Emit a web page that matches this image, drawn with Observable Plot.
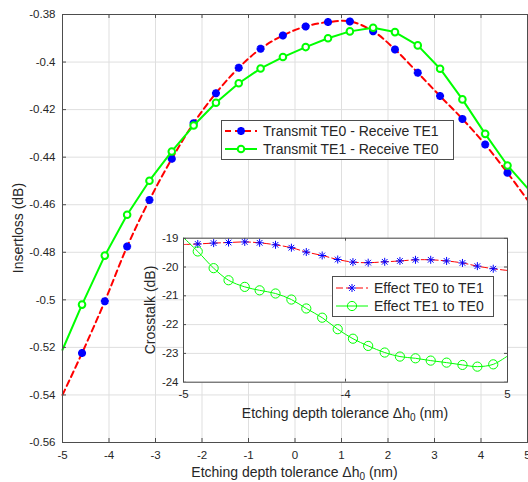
<!DOCTYPE html>
<html>
<head>
<meta charset="utf-8">
<script src="https://cdn.jsdelivr.net/npm/d3@7"></script>
<script src="https://cdn.jsdelivr.net/npm/@observablehq/plot@0.6"></script>
<style>
  html, body { margin: 0; padding: 0; background: #fff; }
  #wrap { position: relative; width: 528px; height: 482px; overflow: hidden; font-family: "Liberation Sans", Arial, sans-serif; color: #262626; }
  #wrap > svg { position: absolute; }
  .title { position: absolute; white-space: nowrap; font-size: 14px; line-height: 1; transform: translate(-50%, -50%); }
  .title.rot { transform: translate(-50%, -50%) rotate(-90deg); }
  .title sub { font-size: 10px; vertical-align: -3px; line-height: 0; }
  .legend { position: absolute; background: #fff; border: 1px solid #4d4d4d; box-sizing: border-box; font-size: 14px; }
  .legend .row { position: absolute; display: flex; align-items: center; white-space: nowrap; height: 16px; }
  .legend .row svg { position: static; display: block; flex: none; }
</style>
</head>
<body>
<div id="wrap"></div>
<script>
// ---------- data ----------
// main chart: etching depth tolerance (nm)
const xMain = [-5, -4.58, -4.09, -3.61, -3.13, -2.65, -2.18, -1.70, -1.21, -0.74, -0.26, 0.23, 0.71, 1.18, 1.68, 2.15, 2.64, 3.12, 3.60, 4.09, 4.57, 5];
// Transmit TE0 - Receive TE1 (insertion loss, dB)
const lossTE0 = [-0.540, -0.5224, -0.5006, -0.4776, -0.4580, -0.4407, -0.4257, -0.4131, -0.4024, -0.3944, -0.3888, -0.3850, -0.3832, -0.3829, -0.3870, -0.3947, -0.4045, -0.4143, -0.4239, -0.4347, -0.4466, -0.4580];
// Transmit TE1 - Receive TE0 (insertion loss, dB)
const lossTE1 = [-0.5210, -0.5020, -0.4814, -0.4642, -0.4499, -0.4376, -0.4267, -0.4171, -0.4089, -0.4027, -0.3979, -0.3937, -0.3900, -0.3871, -0.3856, -0.3874, -0.3930, -0.4028, -0.4157, -0.4302, -0.4435, -0.4530];

// inset chart: crosstalk (dB)
const xInset = [-5, -4.56, -4.07, -3.61, -3.11, -2.65, -2.16, -1.67, -1.21, -0.72, -0.24, 0.23, 0.70, 1.21, 1.68, 2.16, 2.63, 3.12, 3.61, 4.07, 4.56, 5];
const xtTE0 = [-19.22, -19.20, -19.17, -19.15, -19.13, -19.16, -19.23, -19.33, -19.48, -19.60, -19.74, -19.83, -19.85, -19.82, -19.79, -19.75, -19.75, -19.79, -19.86, -19.97, -20.06, -20.12];
const xtTE1 = [-18.98, -19.46, -20.04, -20.46, -20.69, -20.81, -20.92, -21.13, -21.44, -21.76, -22.16, -22.49, -22.74, -22.97, -23.11, -23.17, -23.25, -23.32, -23.40, -23.46, -23.38, -23.09];

// ticks
const mainXTicks = [-5, -4, -3, -2, -1, 0, 1, 2, 3, 4, 5];
const mainYTicks = [-0.56, -0.54, -0.52, -0.5, -0.48, -0.46, -0.44, -0.42, -0.4, -0.38];
const insetXTicks = [-5, 0, 5];
const insetXTickLabels = ["-5", "-4", "5"];
const insetYTicks = [-24, -23, -22, -21, -20, -19];

// text
const mainXTitle = "Etching depth tolerance Δh<sub>0</sub> (nm)";
const mainYTitle = "Insertloss (dB)";
const insetXTitle = "Etching depth tolerance Δh<sub>0</sub> (nm)";
const insetYTitle = "Crosstalk (dB)";
const mainLegend = ["Transmit TE0 - Receive TE1", "Transmit TE1 - Receive TE0"];
const insetLegend = ["Effect TE0 to TE1", "Effect TE1 to TE0"];

// ---------- build ----------
const FONT = '"Liberation Sans", Arial, sans-serif';
const AXC = "#4d4d4d";
const GRID = "#dfdfdf";
const RED = "#ff0000", BLUE = "#0000ff", GREEN = "#00ff00";

const asterisk = {
  draw(ctx, size) {
    const r = Math.sqrt(size / Math.PI), d = r * Math.SQRT1_2;
    ctx.moveTo(-r, 0); ctx.lineTo(r, 0);
    ctx.moveTo(0, -r); ctx.lineTo(0, r);
    ctx.moveTo(-d, -d); ctx.lineTo(d, d);
    ctx.moveTo(-d, d); ctx.lineTo(d, -d);
  }
};

const mainRows = xMain.map((x, i) => ({x, a: lossTE0[i], b: lossTE1[i], i}));
const mainMarks = mainRows.filter(d => d.i > 0 && d.i < xMain.length - 1);
const insetRows = xInset.map((x, i) => ({x, a: xtTE0[i], b: xtTE1[i], i}));
const insetMarks = insetRows.filter(d => d.i > 0 && d.i < xInset.length - 1);

const fmt = d => String(d);

// main plot geometry
const M = {w: 528, h: 482, l: 62, r: 1, t: 14, b: 40};
const mainH = M.h - M.t - M.b;
const mainW = M.w - M.l - M.r;

const main = Plot.plot({
  width: M.w, height: M.h,
  marginLeft: M.l, marginRight: M.r, marginTop: M.t, marginBottom: M.b,
  style: {fontFamily: FONT, fontSize: "11.5px", color: "#262626", background: "transparent", overflow: "visible"},
  x: {domain: [-5, 5]},
  y: {domain: [-0.56, -0.38]},
  marks: [
    Plot.gridX(mainXTicks, {stroke: GRID, strokeOpacity: 1}),
    Plot.gridY(mainYTicks, {stroke: GRID, strokeOpacity: 1}),
    Plot.line(mainRows, {x: "x", y: "a", stroke: RED, strokeWidth: 2, strokeDasharray: "6,4", curve: "catmull-rom"}),
    Plot.dot(mainMarks, {x: "x", y: "a", symbol: asterisk, r: 4, stroke: BLUE, strokeWidth: 2.6, fill: "none"}),
    Plot.line(mainRows, {x: "x", y: "b", stroke: GREEN, strokeWidth: 2}),
    Plot.dot(mainMarks, {x: "x", y: "b", symbol: "circle", r: 3.3, stroke: GREEN, strokeWidth: 2, fill: "white"}),
    Plot.tickX(mainXTicks, {x: d => d, insetTop: mainH - 4, stroke: AXC}),
    Plot.tickX(mainXTicks, {x: d => d, insetBottom: mainH - 4, stroke: AXC}),
    Plot.tickY(mainYTicks, {y: d => d, insetRight: mainW - 4, stroke: AXC}),
    Plot.frame({stroke: AXC}),
    Plot.axisX(mainXTicks, {tickSize: 0, tickPadding: 8, label: null, tickFormat: fmt, fill: "#262626"}),
    Plot.axisY(mainYTicks, {tickSize: 0, tickPadding: 7, label: null, tickFormat: fmt, fill: "#262626"})
  ]
});
main.style.left = "0px"; main.style.top = "0px";

// inset geometry
const I = {left: 130, top: 225, w: 385, h: 205, l: 53, r: 8, t: 12.7, b: 48.3};
const insetH = I.h - I.t - I.b;
const insetW = I.w - I.l - I.r;

const inset = Plot.plot({
  width: I.w, height: I.h,
  marginLeft: I.l, marginRight: I.r, marginTop: I.t, marginBottom: I.b,
  style: {fontFamily: FONT, fontSize: "11.5px", color: "#262626", background: "transparent", overflow: "visible"},
  x: {domain: [-5, 5]},
  y: {domain: [-24, -19]},
  clip: true,
  marks: [
    Plot.frame({fill: "white", stroke: "none"}),
    Plot.gridX(insetXTicks, {stroke: GRID, strokeOpacity: 1}),
    Plot.gridY(insetYTicks, {stroke: GRID, strokeOpacity: 1}),
    Plot.line(insetRows, {x: "x", y: "a", stroke: RED, strokeWidth: 1, strokeDasharray: "7,3", curve: "catmull-rom", clip: true}),
    Plot.dot(insetMarks, {x: "x", y: "a", symbol: asterisk, r: 4, stroke: BLUE, strokeWidth: 1, fill: "none"}),
    Plot.line(insetRows, {x: "x", y: "b", stroke: GREEN, strokeWidth: 1, curve: "catmull-rom", clip: true}),
    Plot.dot(insetMarks, {x: "x", y: "b", symbol: "circle", r: 4.6, stroke: GREEN, strokeWidth: 1, fill: "none"}),
    Plot.tickX(insetXTicks, {x: d => d, insetTop: insetH - 3, stroke: AXC}),
    Plot.tickX(insetXTicks, {x: d => d, insetBottom: insetH - 3, stroke: AXC}),
    Plot.tickY(insetYTicks, {y: d => d, insetRight: insetW - 3, stroke: AXC}),
    Plot.tickY(insetYTicks, {y: d => d, insetLeft: insetW - 3, stroke: AXC}),
    Plot.frame({stroke: AXC}),
    Plot.axisX(insetXTicks, {tickSize: 0, tickPadding: 8, label: null, tickFormat: (d, i) => insetXTickLabels[i], fill: "#262626"}),
    Plot.axisY(insetYTicks, {tickSize: 0, tickPadding: 5, label: null, tickFormat: fmt, fill: "#262626"})
  ]
});
inset.style.left = I.left + "px"; inset.style.top = I.top + "px";

const wrap = document.getElementById("wrap");
wrap.appendChild(main);
wrap.appendChild(inset);

function title(html, cx, cy, rot) {
  const d = document.createElement("div");
  d.className = "title" + (rot ? " rot" : "");
  d.innerHTML = html;
  d.style.left = cx + "px"; d.style.top = cy + "px";
  wrap.appendChild(d);
}
title(mainXTitle, M.l + mainW / 2, 472, false);
title(mainYTitle, 18, M.t + mainH / 2, true);
title(insetXTitle, I.left + I.l + insetW / 2, 413, false);
title(insetYTitle, 150, I.top + I.t + insetH / 2, true);

function sample(kind, big) {
  const ns = "http://www.w3.org/2000/svg";
  const s = document.createElementNS(ns, "svg");
  s.setAttribute("width", 36); s.setAttribute("height", 16);
  s.style.marginRight = "4px";
  let inner = "";
  if (kind === "red") {
    inner += `<line x1="2" y1="8" x2="34" y2="8" stroke="${RED}" stroke-width="${big ? 2 : 1}" stroke-dasharray="${big ? "6,4" : "7,3"}"/>`;
    const r = 4, dd = r * Math.SQRT1_2;
    inner += `<path d="M${18 - r},8H${18 + r}M18,${8 - r}V${8 + r}M${18 - dd},${8 - dd}L${18 + dd},${8 + dd}M${18 - dd},${8 + dd}L${18 + dd},${8 - dd}" stroke="${BLUE}" stroke-width="${big ? 2.6 : 1}" fill="none"/>`;
  } else {
    inner += `<line x1="2" y1="8" x2="34" y2="8" stroke="${GREEN}" stroke-width="${big ? 2 : 1}"/>`;
    inner += `<circle cx="18" cy="8" r="${big ? 3.3 : 4.6}" stroke="${GREEN}" stroke-width="${big ? 2 : 1}" fill="${big ? "white" : "none"}"/>`;
  }
  s.innerHTML = inner;
  return s;
}

function legend(labels, box, rows, big) {
  const d = document.createElement("div");
  d.className = "legend";
  Object.assign(d.style, {left: box.x + "px", top: box.y + "px", width: box.w + "px", height: box.h + "px"});
  labels.forEach((lab, i) => {
    const r = document.createElement("div");
    r.className = "row";
    r.style.top = (rows[i] - box.y - 8 - 1) + "px";
    r.style.left = (box.sx - box.x - 1) + "px";
    r.appendChild(sample(i === 0 ? "red" : "green", big));
    const t = document.createElement("span");
    t.textContent = lab;
    r.appendChild(t);
    d.appendChild(r);
  });
  wrap.appendChild(d);
}
legend(mainLegend, {x: 221, y: 120, w: 233, h: 40, sx: 223}, [131, 149], true);
legend(insetLegend, {x: 332, y: 276, w: 162, h: 41, sx: 334}, [288, 306], false);
</script>
</body>
</html>
